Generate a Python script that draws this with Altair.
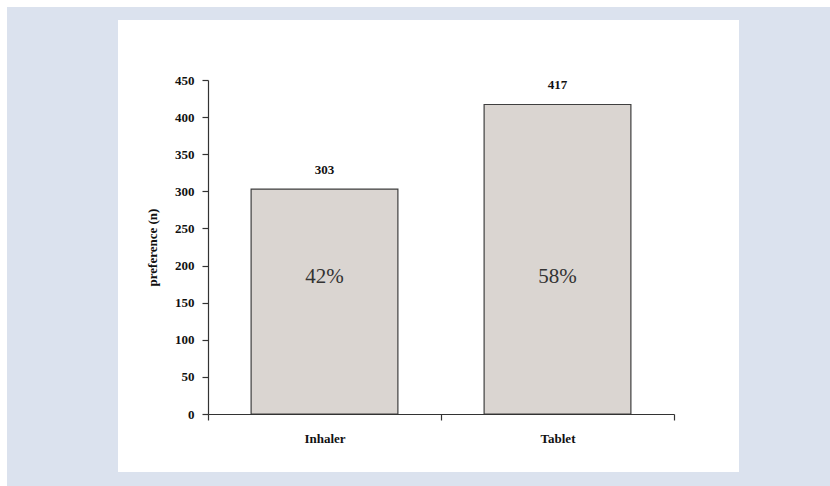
import altair as alt
import pandas as pd

# Inhaler vs tablet preference counts
devices = ["Inhaler", "Tablet"]
counts = [303, 417]
y_ticks = [0, 50, 100, 150, 200, 250, 300, 350, 400, 450]

total = sum(counts)
df = pd.DataFrame({
    "device": devices,
    "n": counts,
    "pct": [f"{round(100 * c / total)}%" for c in counts],
})

FONT = "Liberation Serif"
x_enc = alt.X("device:N", sort=devices, title=None,
              scale=alt.Scale(paddingInner=0, paddingOuter=0),
              axis=alt.Axis(zindex=2, tickBand="extent", labelAngle=0))
y_scale = alt.Scale(domain=[0, 450], nice=False)
y_axis = alt.Axis(values=y_ticks, grid=False, zindex=2)

# Page backdrop: light blue frame with a white panel behind the chart
frame = alt.Chart(pd.DataFrame({"k": [0]})).mark_rect(
    fill="#dbe2ee", clip=False
).encode(x=alt.value(-201), x2=alt.value(630), y=alt.value(-73), y2=alt.value(410))

panel = alt.Chart(pd.DataFrame({"k": [0]})).mark_rect(
    fill="white", clip=False
).encode(x=alt.value(-90), x2=alt.value(531), y=alt.value(-60), y2=alt.value(392))

bars = alt.Chart(df).mark_bar(
    fill="#dad5d1", stroke="#3f3f3f", strokeWidth=1.2,
    width=alt.RelativeBandSize(0.63)
).encode(
    x=x_enc,
    y=alt.Y("n:Q", scale=y_scale, title="preference (n)", axis=y_axis),
)

counts_text = alt.Chart(df).mark_text(
    font=FONT, fontSize=13, fontWeight="bold", color="#111", dy=-19
).encode(x=x_enc, y=alt.Y("n:Q", scale=y_scale, title="preference (n)", axis=y_axis),
         text="n:Q")

pct_text = alt.Chart(df).mark_text(
    font=FONT, fontSize=21, color="#333", baseline="middle"
).encode(x=x_enc, y=alt.value(197), text="pct:N")

chart = alt.layer(frame, panel, bars, counts_text, pct_text).properties(
    width=466, height=334,
    padding={"left": 208, "top": 80, "right": 156, "bottom": 72},
    autosize=alt.AutoSizeParams(type="none"),
    background="white",
).configure_view(stroke=None).configure_axis(
    domainColor="#333", tickColor="#333", domainWidth=1.2, tickWidth=1.2,
    labelFont=FONT, labelFontSize=13, labelFontWeight="bold", labelColor="#111",
    titleFont=FONT, titleFontSize=13, titleFontWeight="bold", titleColor="#111",
).configure_axisY(
    tickSize=6, labelPadding=8, titlePadding=15
).configure_axisX(
    tickSize=6, labelPadding=12
)

chart.save("out.html", embed_options={"renderer": "svg", "actions": False})
